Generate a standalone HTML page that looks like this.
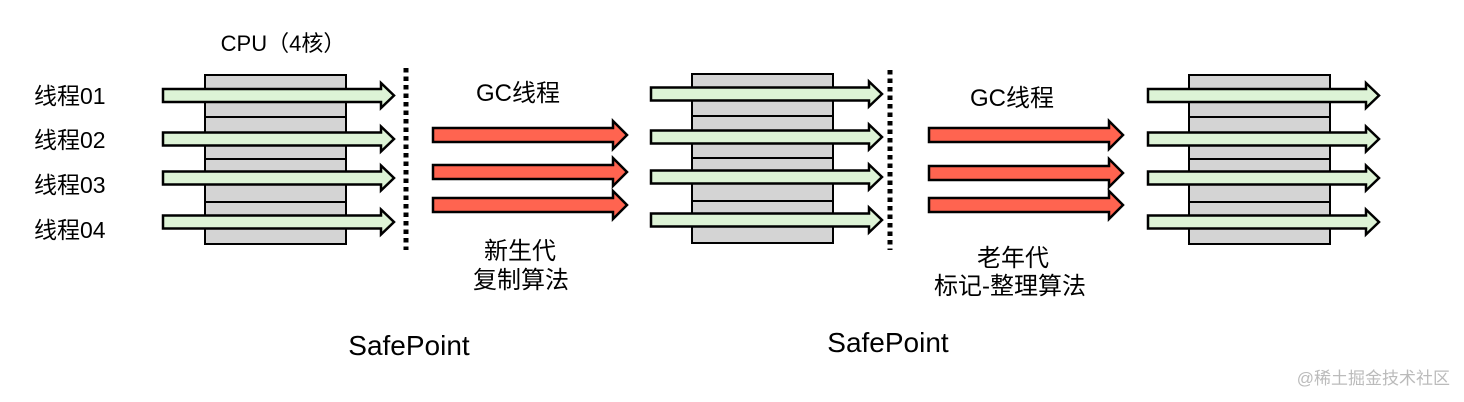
<!DOCTYPE html>
<html><head><meta charset="utf-8"><style>
html,body{margin:0;padding:0;background:#fff;}
svg{display:block;}
text{font-family:"Liberation Sans","Noto Sans CJK SC",sans-serif;fill:#000;}
</style></head><body>
<svg width="1464" height="402" viewBox="0 0 1464 402" xmlns="http://www.w3.org/2000/svg">
<defs>
<path id="g" d="M0,-6.5 H218 V-12.5 L231,0 L218,12.5 V6.5 H0 Z" fill="#ddf3d6" stroke="#000" stroke-width="2.5" stroke-linejoin="miter"/>
<path id="r" d="M0,-7 H180 V-14 L194,0 L180,14 V7 H0 Z" fill="#ff6450" stroke="#000" stroke-width="2.5"/>
<g id="box">
<rect x="0" y="0" width="141" height="169" fill="#d4d4d4" stroke="#000" stroke-width="2"/>
<line x1="0" y1="42" x2="141" y2="42" stroke="#000" stroke-width="2"/>
<line x1="0" y1="84" x2="141" y2="84" stroke="#000" stroke-width="2"/>
<line x1="0" y1="127" x2="141" y2="127" stroke="#000" stroke-width="2"/>
</g>
</defs>

<text x="283" y="51" font-size="22" text-anchor="middle">CPU（4核）</text>
<text x="34" y="104" font-size="23">线程01</text>
<text x="34" y="148" font-size="23">线程02</text>
<text x="34" y="193" font-size="23">线程03</text>
<text x="34" y="238" font-size="23">线程04</text>

<!-- set 1 -->
<use href="#box" x="205" y="75"/>
<use href="#g" x="163" y="95.5"/>
<use href="#g" x="163" y="139"/>
<use href="#g" x="163" y="178"/>
<use href="#g" x="163" y="222"/>
<line x1="406" y1="68" x2="406" y2="250" stroke="#000" stroke-width="5" stroke-dasharray="4.5 4"/>
<text x="518" y="101" font-size="24" text-anchor="middle">GC线程</text>
<use href="#r" x="433" y="135"/>
<use href="#r" x="433" y="172"/>
<use href="#r" x="433" y="205"/>
<text x="520" y="259" font-size="24" text-anchor="middle">新生代</text>
<text x="521" y="288" font-size="24" text-anchor="middle">复制算法</text>
<text x="409" y="355" font-size="28" text-anchor="middle">SafePoint</text>

<!-- set 2 -->
<use href="#box" x="692" y="74"/>
<use href="#g" x="651" y="94"/>
<use href="#g" x="651" y="137"/>
<use href="#g" x="651" y="177"/>
<use href="#g" x="651" y="220"/>
<line x1="890" y1="70" x2="890" y2="250" stroke="#000" stroke-width="5" stroke-dasharray="4.5 4"/>
<text x="1012" y="106" font-size="24" text-anchor="middle">GC线程</text>
<use href="#r" x="929" y="135"/>
<use href="#r" x="929" y="173"/>
<use href="#r" x="929" y="205"/>
<text x="1013" y="266" font-size="24" text-anchor="middle">老年代</text>
<text x="1010" y="294" font-size="24" text-anchor="middle">标记-整理算法</text>
<text x="888" y="352" font-size="28" text-anchor="middle">SafePoint</text>

<!-- set 3 -->
<use href="#box" x="1189" y="75"/>
<use href="#g" x="1148" y="95.5"/>
<use href="#g" x="1148" y="139"/>
<use href="#g" x="1148" y="178"/>
<use href="#g" x="1148" y="222"/>

<text x="1450" y="384" font-size="17" text-anchor="end" style="fill:#bbbbbb">@稀土掘金技术社区</text>
</svg>
</body></html>
